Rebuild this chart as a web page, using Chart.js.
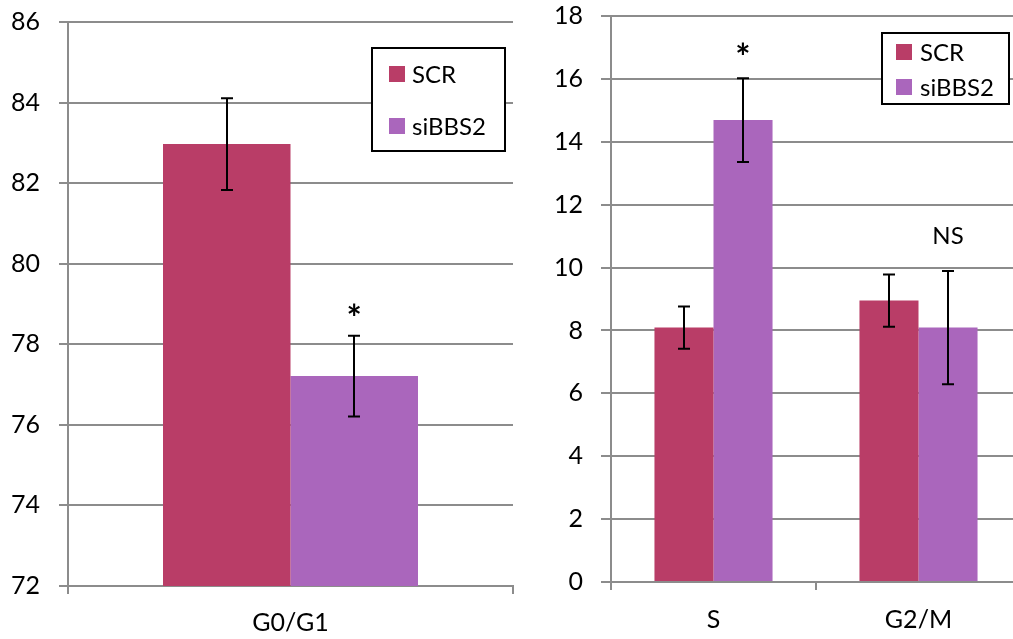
<!DOCTYPE html>
<html lang="en">
<head>
    <meta charset="UTF-8">
    <title>Cell cycle phases: SCR vs siBBS2</title>
    <script src="https://cdn.jsdelivr.net/npm/chart.js"></script>
    <style>
        html, body {
            margin: 0;
            padding: 0;
            width: 1013px;
            height: 639px;
            overflow: hidden;
            background: #ffffff;
        }
        .panel {
            position: absolute;
            top: 0;
        }
        #leftPanel { left: 0; }
        #rightPanel { left: 520px; }
    </style>
</head>
<body>
    <div class="panel" id="leftPanel"><canvas id="leftChart" width="520" height="639"></canvas></div>
    <div class="panel" id="rightPanel"><canvas id="rightChart" width="510" height="639"></canvas></div>

    <script>
        // legend / series names
        const seriesNames = ["SCR", "siBBS2"];
        const seriesColors = ["#B93D67", "#AA66BC"];

        // left panel: G0/G1
        const leftCategories = ["G0/G1"];
        const leftScr = [82.97];
        const leftSibbs2 = [77.21];
        const leftScrErr = [1.14];
        const leftSibbs2Err = [1.0];
        const leftYTicks = [72, 86, 2]; // min, max, step
        // text marks: [text, category index, series index, y value]
        const leftMarks = [["*", 0, 1, 78.9]];

        // right panel: S and G2/M
        const rightCategories = ["S", "G2/M"];
        const rightScr = [8.09, 8.95];
        const rightSibbs2 = [14.69, 8.09];
        const rightScrErr = [0.67, 0.83];
        const rightSibbs2Err = [1.33, 1.8];
        const rightYTicks = [0, 18, 2];
        const rightMarks = [["*", 0, 1, 17.0], ["NS", 1, 1, 11.0]];

        const FONT = "Lato, 'Open Sans', sans-serif";

        const errorBars = {
            id: "errorBars",
            afterDatasetsDraw(chart) {
                const ctx = chart.ctx;
                const y = chart.scales.y;
                ctx.save();
                ctx.strokeStyle = "#000";
                ctx.lineWidth = 2;
                chart.data.datasets.forEach((ds, i) => {
                    chart.getDatasetMeta(i).data.forEach((bar, j) => {
                        const v = ds.data[j], e = ds.errors[j];
                        const top = y.getPixelForValue(v + e);
                        const bot = y.getPixelForValue(v - e);
                        const x = Math.round(bar.x);
                        ctx.beginPath();
                        ctx.moveTo(x, top); ctx.lineTo(x, bot);
                        ctx.moveTo(x - 6, top); ctx.lineTo(x + 6, top);
                        ctx.moveTo(x - 6, bot); ctx.lineTo(x + 6, bot);
                        ctx.stroke();
                    });
                });
                ctx.restore();
            }
        };

        const textMarks = {
            id: "textMarks",
            afterDatasetsDraw(chart, args, opts) {
                const ctx = chart.ctx;
                ctx.save();
                ctx.fillStyle = "#000";
                ctx.textAlign = "center";
                ctx.textBaseline = "middle";
                opts.marks.forEach(([txt, ci, si, val]) => {
                    const bar = chart.getDatasetMeta(si).data[ci];
                    const yy = chart.scales.y.getPixelForValue(val);
                    if (txt === "*") {
                        ctx.font = "bold 36px " + FONT;
                        ctx.fillText(txt, bar.x, yy + 11);
                    } else {
                        ctx.font = "24px " + FONT;
                        ctx.fillText(txt, bar.x, yy);
                    }
                });
                ctx.restore();
            }
        };

        const boxLegend = {
            id: "boxLegend",
            afterDraw(chart, args, o) {
                const ctx = chart.ctx;
                ctx.save();
                ctx.fillStyle = "#fff";
                ctx.fillRect(o.x, o.y, o.w, o.h);
                ctx.strokeStyle = "#000";
                ctx.lineWidth = 2;
                ctx.strokeRect(o.x, o.y, o.w, o.h);
                ctx.font = "24px " + FONT;
                ctx.textBaseline = "middle";
                chart.data.datasets.forEach((ds, i) => {
                    const cy = o.y + o.rows[i];
                    ctx.fillStyle = ds.backgroundColor;
                    ctx.fillRect(o.x + o.sq, cy - 8, 16, 16);
                    ctx.fillStyle = "#000";
                    ctx.fillText(ds.label, o.x + o.tx, cy + 1);
                });
                ctx.restore();
            }
        };

        function makeChart(id, cats, scr, sib, scrErr, sibErr, yt, marks, cfg) {
            const ctx = document.getElementById(id).getContext("2d");
            return new Chart(ctx, {
                type: "bar",
                data: {
                    labels: cats,
                    datasets: [
                        { label: seriesNames[0], data: scr, errors: scrErr, backgroundColor: seriesColors[0] },
                        { label: seriesNames[1], data: sib, errors: sibErr, backgroundColor: seriesColors[1] }
                    ]
                },
                options: {
                    responsive: false,
                    animation: false,
                    devicePixelRatio: 1,
                    layout: { padding: { top: cfg.top, right: cfg.right, bottom: 0, left: 0 } },
                    datasets: { bar: { categoryPercentage: cfg.catPct, barPercentage: 1.0 } },
                    plugins: {
                        legend: { display: false },
                        tooltip: { enabled: false },
                        textMarks: { marks: marks },
                        boxLegend: cfg.legend
                    },
                    scales: {
                        x: {
                            offset: true,
                            grid: { offset: true, drawOnChartArea: false, drawTicks: true, tickLength: 8, color: "#8c8c8c", lineWidth: 2 },
                            border: { color: "#8c8c8c", width: 2 },
                            ticks: { color: "#000", font: { family: FONT, size: 25 }, padding: cfg.xPad },
                            afterFit: s => { s.height = cfg.xH; s.paddingLeft = 0; s.paddingRight = 0; }
                        },
                        y: {
                            min: yt[0], max: yt[1],
                            grid: { color: "#8c8c8c", lineWidth: 2, tickLength: cfg.tl },
                            border: { color: "#8c8c8c", width: 2 },
                            ticks: { stepSize: yt[2], color: "#000", font: { family: FONT, size: 25 }, padding: cfg.yPad },
                            afterFit: s => { s.width = cfg.yW; s.paddingTop = 0; s.paddingBottom = 0; }
                        }
                    }
                },
                plugins: [errorBars, textMarks, boxLegend]
            });
        }

        makeChart("leftChart", leftCategories, leftScr, leftSibbs2, leftScrErr, leftSibbs2Err, leftYTicks, leftMarks, {
            top: 22, right: 7, xH: 53, yW: 68, tl: 9, yPad: 19, xPad: 14, catPct: 0.573,
            legend: { x: 372, y: 48, w: 133, h: 103, sq: 17, tx: 40, rows: [26, 78] }
        });

        makeChart("rightChart", rightCategories, rightScr, rightSibbs2, rightScrErr, rightSibbs2Err, rightYTicks, rightMarks, {
            top: 16, right: 9, xH: 57, yW: 91, tl: 10, yPad: 18, xPad: 15, catPct: 0.576,
            legend: { x: 362, y: 33, w: 127, h: 71, sq: 14, tx: 38, rows: [19, 54] }
        });
    </script>
</body>
</html>
